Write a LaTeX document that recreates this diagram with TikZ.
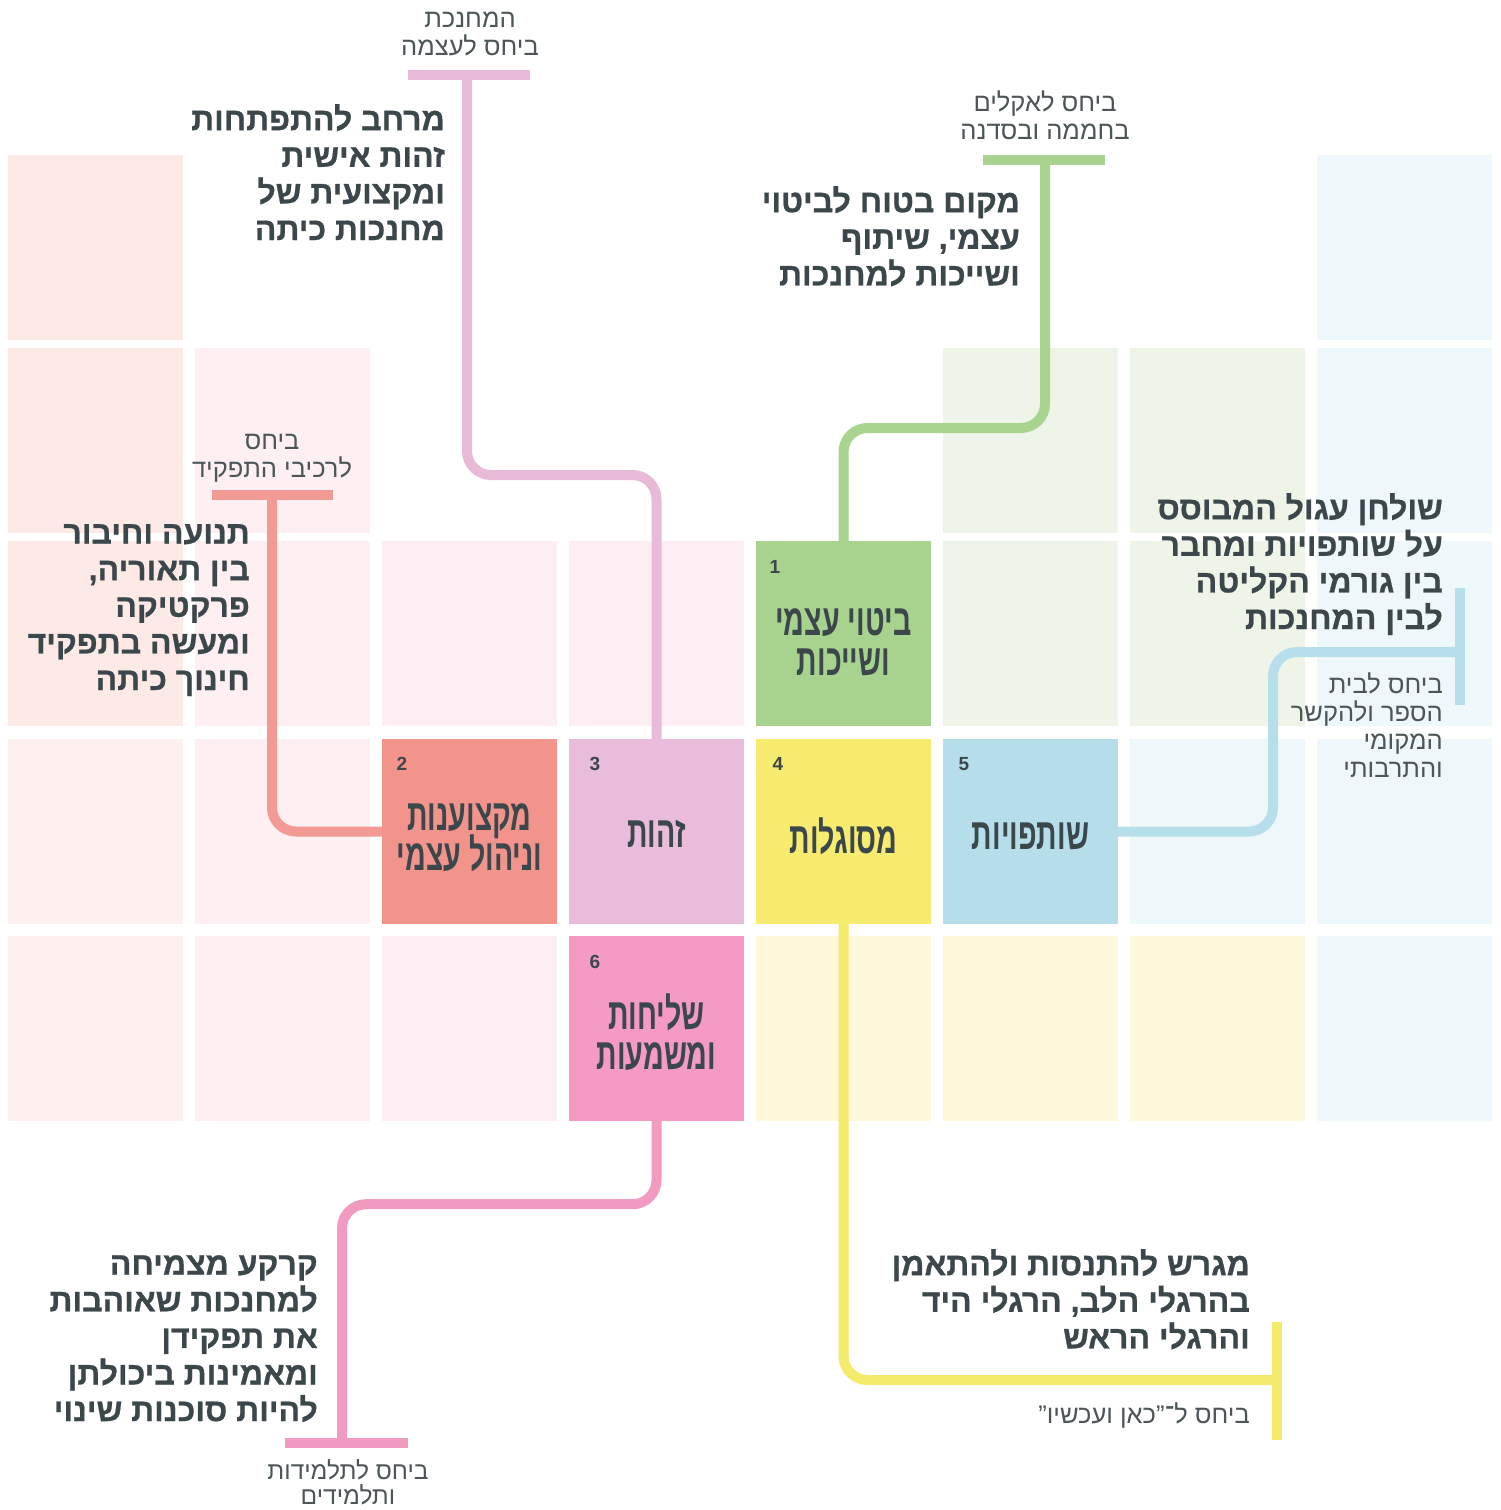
\documentclass[tikz,border=0pt]{standalone}
\usepackage{fontspec}
\usepackage{graphicx}
\setmainfont{Liberation Sans}[Script=Hebrew]
\newfontfamily\heavyfont{Liberation Sans}[Script=Hebrew, BoldFeatures={FakeBold=0.7}]
\TeXXeTstate=1
\newcommand\rtl[1]{\beginR #1\endR}
\newcommand\cond[1]{\scalebox{0.65}[1]{\beginR #1\endR}}
\definecolor{txt}{HTML}{3B474B}
\definecolor{labc}{HTML}{4C5558}
\definecolor{lsal}{HTML}{FDEAE7}
\definecolor{lsalb}{HTML}{FEF0EE}
\definecolor{lpink}{HTML}{FDEFF2}
\definecolor{lpinkb}{HTML}{FDEEF3}
\definecolor{lgreen}{HTML}{EEF5E8}
\definecolor{lblue}{HTML}{EEF7FA}
\definecolor{lyel}{HTML}{FEF9DB}
\definecolor{fone}{HTML}{A8D38E}
\definecolor{ftwo}{HTML}{F3948C}
\definecolor{fthree}{HTML}{E8BCDA}
\definecolor{ffour}{HTML}{F7EC6F}
\definecolor{ffive}{HTML}{B5DEEA}
\definecolor{fsix}{HTML}{F49AC3}
\definecolor{lone}{HTML}{A9D48F}
\definecolor{ltwo}{HTML}{F29A93}
\definecolor{lthree}{HTML}{E9BAD8}
\definecolor{lfour}{HTML}{F4EA6B}
\definecolor{lfive}{HTML}{B7DFEB}
\definecolor{lsix}{HTML}{F29BC1}
\tikzset{
  cell/.style={minimum width=175pt, minimum height=185pt, inner sep=0pt, draw=none},
  boxtext/.style={text=txt, font={\bfseries\fontsize{44}{40}\selectfont\lineskiplimit=-60pt}, align=center, inner sep=0pt},
  num/.style={font=\bfseries\fontsize{19}{19}\selectfont, text=txt, inner sep=0pt},
  maintext/.style={font={\heavyfont\bfseries\fontsize{32}{36.6}\selectfont}, text=txt, align=right, inner sep=0pt},
  labtext/.style={font=\fontsize{25.5}{27.8}\selectfont, text=labc, inner sep=0pt},
  conn/.style={line width=10pt, rounded corners=24pt},
  tbar/.style={line width=10pt}
}
\begin{document}
\begin{tikzpicture}[x=1pt,y=-1pt]
\useasboundingbox (0,0) rectangle (1501,1510);
\fill[white] (0,0) rectangle (1501,1510);
% background cells
\foreach \cx/\cy/\cc [count=\i] in {
  95.5/247.5/lsal, 1404.5/247.5/lblue,
  95.5/440.5/lsal, 282.5/440.5/lpink, 1030.5/440.5/lgreen, 1217.5/440.5/lgreen, 1404.5/440.5/lblue,
  95.5/633.5/lsal, 282.5/633.5/lpink, 469.5/633.5/lpinkb, 656.5/633.5/lpinkb, 1030.5/633.5/lgreen, 1217.5/633.5/lgreen, 1404.5/633.5/lblue,
  95.5/831.5/lsalb, 282.5/831.5/lpink, 1217.5/831.5/lblue, 1404.5/831.5/lblue,
  95.5/1028.5/lsalb, 282.5/1028.5/lpink, 469.5/1028.5/lpinkb, 843.5/1028.5/lyel, 1030.5/1028.5/lyel, 1217.5/1028.5/lyel, 1404.5/1028.5/lblue}
  \node[cell, fill=\cc] (cell\i) at (\cx,\cy) {};
% main boxes
\node[cell, fill=fone] (b1) at (843.5,633.5) {};
\node[cell, fill=ftwo] (b2) at (469.5,831.5) {};
\node[cell, fill=fthree] (b3) at (656.5,831.5) {};
\node[cell, fill=ffour] (b4) at (843.5,831.5) {};
\node[cell, fill=ffive] (b5) at (1030.5,831.5) {};
\node[cell, fill=fsix] (b6) at (656.5,1028.5) {};
% anchor coordinates of the T-bars
\coordinate (t1) at (1045,160);
\coordinate (t2) at (272,495);
\coordinate (t3) at (467,75);
\coordinate (t4) at (1277,1380);
\coordinate (t5) at (1460,652);
\coordinate (k5) at (1273,652);
\coordinate (t6) at (342,1443);
% connectors
\draw[conn, lthree] (t3) -- ++(0,400) -| (b3.north);
\draw[tbar, lthree] ([xshift=-59pt]t3) -- ([xshift=63pt]t3);
\draw[conn, lone] (t1) -- ++(0,268) -| (b1.north);
\draw[tbar, lone] ([xshift=-62pt]t1) -- ([xshift=60pt]t1);
\draw[conn, ltwo] (t2) |- (b2.west);
\draw[tbar, ltwo] ([xshift=-60pt]t2) -- ([xshift=61pt]t2);
\draw[conn, lfive] (b5.east) -| (k5) -- (t5);
\draw[tbar, lfive] ([yshift=64pt]t5) -- ([yshift=-53pt]t5);
\draw[conn, lfour] (b4.south) |- (t4);
\draw[tbar, lfour] ([yshift=58pt]t4) -- ([yshift=-60pt]t4);
\draw[conn, lsix] (b6.south) -- ++(0,83) -| (t6);
\draw[tbar, lsix] ([xshift=-57pt]t6) -- ([xshift=66pt]t6);
% box numbers
\node[num] (n1) at ([xshift=19pt,yshift=-26pt]b1.north west) {1};
\node[num] (n2) at ([xshift=20pt,yshift=-25pt]b2.north west) {2};
\node[num] (n3) at ([xshift=26pt,yshift=-25pt]b3.north west) {3};
\node[num] (n4) at ([xshift=22pt,yshift=-25pt]b4.north west) {4};
\node[num] (n5) at ([xshift=21pt,yshift=-25pt]b5.north west) {5};
\node[num] (n6) at ([xshift=26pt,yshift=-26pt]b6.north west) {6};
% box texts
\node[boxtext] (x1) at ([yshift=-9pt]b1.center) {\cond{ביטוי עצמי}\\\cond{ושייכות}};
\node[boxtext] (x2) at ([yshift=-6pt]b2.center) {\cond{מקצוענות}\\\cond{וניהול עצמי}};
\node[boxtext] (x3) at ([yshift=-2pt]b3.center) {\cond{זהות}};
\node[boxtext] (x4) at ([yshift=-5pt]b4.center) {\cond{מסוגלות}};
\node[boxtext] (x5) at ([yshift=-5pt]b5.center) {\cond{שותפויות}};
\node[boxtext] (x6) at ([yshift=-4pt]b6.center) {\cond{שליחות}\\\cond{ומשמעות}};
% small labels
\node[labtext, align=center, anchor=north] (l3) at (470,12) {\rtl{המחנכת}\\\rtl{ביחס לעצמה}};
\node[labtext, align=center, anchor=north] (l1) at (1045,91) {\rtl{ביחס לאקלים}\\\rtl{בחממה ובסדנה}};
\node[labtext, align=center, anchor=north] (l2) at (272,434) {\rtl{ביחס}\\\rtl{לרכיבי התפקיד}};
\node[labtext, align=right, anchor=north east] (l5) at (1443,673) {\rtl{ביחס לבית}\\\rtl{הספר ולהקשר}\\\rtl{המקומי}\\\rtl{והתרבותי}};
\node[labtext, align=right, anchor=north east] (l4) at (1250,1403) {\rtl{ביחס ל־"כאן ועכשיו"}};
\node[labtext, font=\fontsize{24.5}{25}\selectfont, align=center, anchor=north] (l6) at (348,1459) {\rtl{ביחס לתלמידות}\\\rtl{ותלמידים}};
% main texts
\node[maintext, anchor=north east] (m3) at (445,104) {\rtl{מרחב להתפתחות}\\\rtl{זהות אישית}\\\rtl{ומקצועית של}\\\rtl{מחנכות כיתה}};
\node[maintext, anchor=north east] (m1) at (1020,186) {\rtl{מקום בטוח לביטוי}\\\rtl{עצמי, שיתוף}\\\rtl{ושייכות למחנכות}};
\node[maintext, anchor=north east] (m2) at (250,524) {\rtl{תנועה וחיבור}\\\rtl{בין תאוריה,}\\\rtl{פרקטיקה}\\\rtl{ומעשה בתפקיד}\\\rtl{חינוך כיתה}};
\node[maintext, anchor=north east] (m5) at (1443,493) {\rtl{שולחן עגול המבוסס}\\\rtl{על שותפויות ומחבר}\\\rtl{בין גורמי הקליטה}\\\rtl{לבין המחנכות}};
\node[maintext, anchor=north east] (m4) at (1250,1249) {\rtl{מגרש להתנסות ולהתאמן}\\\rtl{בהרגלי הלב, הרגלי היד}\\\rtl{והרגלי הראש}};
\node[maintext, anchor=north east] (m6) at (318,1255) {\rtl{קרקע מצמיחה}\\\rtl{למחנכות שאוהבות}\\\rtl{את תפקידן}\\\rtl{ומאמינות ביכולתן}\\\rtl{להיות סוכנות שינוי}};
\end{tikzpicture}
\end{document}
